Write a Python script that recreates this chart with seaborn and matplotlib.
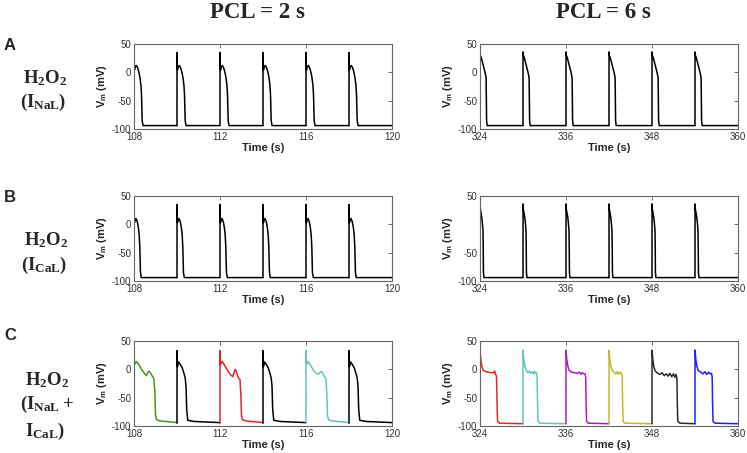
import numpy as np
import pandas as pd
import matplotlib
matplotlib.use('Agg')
import matplotlib.pyplot as plt
import seaborn as sns

# ---- data ----
# beat onsets (s)
onsets_2s = [108, 110, 112, 114, 116, 118]
onsets_6s = [324, 330, 336, 342, 348, 354]

# A: H2O2 (I_NaL), one beat, time since stimulus (s) and Vm (mV)
a2_t = [0, 0.002, 0.02, 0.06, 0.11, 0.17, 0.23, 0.28, 0.32, 0.35, 0.38, 0.42, 2.0]
a2_v = [-94, 35, 4, 10, 12, 8, 0, -10, -22, -40, -85, -94, -94]
a6_t = [0, 0.005, 0.04, 0.15, 0.4, 0.7, 0.85, 0.88, 0.92, 1.0, 6.0]
a6_v = [-94, 36, 30, 27, 15, 0, -9, -40, -85, -94, -94]

# B: H2O2 (I_CaL)
b2_t = [0, 0.002, 0.02, 0.06, 0.10, 0.15, 0.20, 0.24, 0.27, 0.30, 0.34, 2.0]
b2_v = [-94, 35, 3, 9, 10, 5, -5, -18, -40, -85, -94, -94]
b6_t = [0, 0.005, 0.04, 0.12, 0.25, 0.35, 0.42, 0.45, 0.48, 0.55, 6.0]
b6_v = [-94, 36, 27, 22, 12, 0, -12, -40, -85, -94, -94]

# C: H2O2 (I_NaL + I_CaL), PCL 2 s -- EAD beats alternate with normal beats
c2_green_t = [0, 0.002, 0.02, 0.1, 0.2, 0.35, 0.5, 0.58, 0.65, 0.70, 0.76, 0.85, 0.92, 0.97, 1.0, 1.05, 1.2, 2.0]
c2_green_v = [-95, 33, 8, 14, 10, 0, -8, -11, -5, -3, -6, -12, -16, -40, -80, -89, -91, -94]
c2_black_t = [0, 0.002, 0.02, 0.07, 0.15, 0.25, 0.33, 0.38, 0.42, 0.45, 0.5, 0.8, 2.0]
c2_black_v = [-95, 33, 5, 13, 9, 2, -8, -15, -30, -70, -90, -92, -94]
c2_red_t = [0, 0.002, 0.02, 0.1, 0.2, 0.35, 0.5, 0.6, 0.66, 0.70, 0.75, 0.85, 0.93, 0.97, 1.0, 1.05, 1.2, 2.0]
c2_red_v = [-95, 33, 8, 14, 8, -2, -10, -13, -5, 0, -3, -15, -18, -45, -82, -89, -91, -94]
c2_teal_t = [0, 0.002, 0.02, 0.1, 0.2, 0.35, 0.5, 0.6, 0.68, 0.75, 0.85, 0.93, 0.97, 1.0, 1.05, 1.2, 2.0]
c2_teal_v = [-95, 33, 8, 14, 8, -2, -8, -8, -4, -5, -12, -17, -45, -82, -89, -91, -94]

# C: PCL 6 s -- every beat has a noisy plateau of its own length
c6_red_t = [0, 0.005, 0.1, 0.25, 0.45, 0.8, 1.2, 1.6, 1.9, 2.05, 2.15, 2.3, 2.38, 2.45, 2.7, 6.0]
c6_red_v = [-96, 34, 19, 6, -2, -4, -5, -6, -6, -3, -8, -12, -60, -92, -95, -96]
c6_teal_t = [0, 0.005, 0.1, 0.25, 0.45, 0.7, 0.9, 1.1, 1.3, 1.45, 1.6, 1.75, 1.9, 1.97, 2.03, 2.1, 2.4, 6.0]
c6_teal_v = [-96, 34, 19, 6, -2, -6, -3, -7, -4, -8, -3, -7, -6, -15, -60, -92, -95, -96]
c6_purple_t = [0, 0.005, 0.1, 0.25, 0.45, 0.8, 1.2, 1.6, 1.9, 2.1, 2.3, 2.5, 2.65, 2.75, 2.8, 2.88, 3.1, 6.0]
c6_purple_v = [-96, 34, 19, 6, -2, -5, -6, -7, -5, -9, -6, -8, -8, -14, -60, -92, -95, -96]
c6_yellow_t = [0, 0.005, 0.1, 0.25, 0.45, 0.7, 0.95, 1.15, 1.35, 1.55, 1.75, 1.84, 1.9, 1.97, 2.2, 6.0]
c6_yellow_v = [-96, 34, 19, 6, -2, -5, -8, -4, -9, -5, -7, -14, -60, -92, -95, -96]
c6_black_t = [0, 0.005, 0.1, 0.25, 0.45, 0.8, 1.1, 1.4, 1.7, 2.0, 2.25, 2.5, 2.75, 3.0, 3.2, 3.35, 3.48, 3.53, 3.6, 3.9, 6.0]
c6_black_v = [-96, 34, 19, 5, -3, -7, -9, -6, -11, -8, -12, -7, -13, -8, -14, -9, -16, -60, -92, -95, -96]
c6_blue_t = [0, 0.005, 0.1, 0.25, 0.45, 0.8, 1.1, 1.4, 1.65, 1.9, 2.1, 2.3, 2.4, 2.45, 2.52, 2.8, 6.0]
c6_blue_v = [-96, 34, 19, 6, -2, -5, -8, -4, -9, -5, -8, -7, -14, -60, -92, -95, -96]

colors_c2 = ['#4f8f24', 'black', '#e3262b', 'black', '#66c3bf', 'black']
colors_c6 = ['#e3262b', '#66c3bf', '#a51fc4', '#bdbd2c', '#2b2b2b', '#1f1fff']

xticks_2s = [108, 112, 116, 120]
xticks_6s = [324, 336, 348, 360]
yticks = [-100, -50, 0, 50]


def beats_frame(onsets, shapes):
    rows = []
    for i, (t0, (dt, v)) in enumerate(zip(onsets, shapes)):
        for d, vv in zip(dt, v):
            rows.append((i, t0 + d, vv))
    return pd.DataFrame(rows, columns=['beat', 't', 'v'])


sns.set_style('white')
plt.rcParams['font.family'] = ['Liberation Sans', 'DejaVu Sans']
plt.rcParams['mathtext.fontset'] = 'custom'
plt.rcParams['mathtext.bf'] = 'Liberation Serif:bold'
plt.rcParams['mathtext.rm'] = 'Liberation Serif'
plt.rcParams['mathtext.sf'] = 'Liberation Sans:bold'

W, H = 747, 453
fig = plt.figure(figsize=(W / 100, H / 100), dpi=100)


def px_axes(x0, y0, x1, y1):
    return fig.add_axes([x0 / W, 1 - y1 / H, (x1 - x0) / W, (y1 - y0) / H])


def style_axes(ax, xlim, xticks, ylabels):
    ax.set_xlim(xlim)
    ax.set_ylim(-100, 50)
    ax.set_xticks(xticks)
    ax.set_yticks(yticks)
    ax.set_yticklabels(ylabels)
    ax.tick_params(direction='in', length=3, width=0.6, top=True, right=True,
                   labelsize=7, pad=2, colors='#555555', labelcolor='#333333')
    for s in ax.spines.values():
        s.set_color('#666666')
        s.set_linewidth(0.8)
    ax.set_xlabel('Time (s)', fontsize=8, fontweight='bold', labelpad=1)
    ax.set_ylabel(r'$\mathsf{V_m}$ (mV)', fontsize=8, fontweight='bold', labelpad=2)


rows_y = [(44, 129), (196, 281), (341, 426)]
panels = [
    (beats_frame(onsets_2s, [(a2_t, a2_v)] * 6), ['black'] * 6,
     beats_frame(onsets_6s, [(a6_t, a6_v)] * 6), ['black'] * 6, ['-100', '-50', '0', '50']),
    (beats_frame(onsets_2s, [(b2_t, b2_v)] * 6), ['black'] * 6,
     beats_frame(onsets_6s, [(b6_t, b6_v)] * 6), ['black'] * 6, ['-100', '-50', '', '50']),
    (beats_frame(onsets_2s, [(c2_green_t, c2_green_v), (c2_black_t, c2_black_v),
                             (c2_red_t, c2_red_v), (c2_black_t, c2_black_v),
                             (c2_teal_t, c2_teal_v), (c2_black_t, c2_black_v)]), colors_c2,
     beats_frame(onsets_6s, [(c6_red_t, c6_red_v), (c6_teal_t, c6_teal_v),
                             (c6_purple_t, c6_purple_v), (c6_yellow_t, c6_yellow_v),
                             (c6_black_t, c6_black_v), (c6_blue_t, c6_blue_v)]), colors_c6, None),
]

for (y0, y1), (df2, col2, df6, col6, right_labels) in zip(rows_y, panels):
    ax = px_axes(134, y0, 392, y1)
    sns.lineplot(data=df2, x='t', y='v', hue='beat', palette=col2, estimator=None,
                 sort=False, legend=False, lw=1.1, ax=ax)
    style_axes(ax, (108, 120), xticks_2s, ['-100', '-50', '0', '50'])
    ax2 = px_axes(480, y0, 738, y1)
    sns.lineplot(data=df6, x='t', y='v', hue='beat', palette=col6, estimator=None,
                 sort=False, legend=False, lw=1.1, ax=ax2)
    style_axes(ax2, (324, 360), xticks_6s, right_labels or ['-100', '-50', '0', '50'])


def ftext(x, y, s, **kw):
    fig.text(x / W, 1 - y / H, s, ha='center', va='center', **kw)


serif = ['Liberation Serif', 'DejaVu Serif']
ftext(257, 13, 'PCL = 2 s', fontsize=16.5, fontweight='bold', family=serif)
ftext(603, 13, 'PCL = 6 s', fontsize=16.5, fontweight='bold', family=serif)

for letter, y in [('A', 45), ('B', 198), ('C', 336)]:
    ftext(10, y, letter, fontsize=12, fontweight='bold')

hs = 13.5
ftext(45, 78, r'$\mathbf{H_2O_2}$', fontsize=hs)
ftext(43, 102, r'$\mathbf{(I_{NaL})}$', fontsize=hs)
ftext(46, 240, r'$\mathbf{H_2O_2}$', fontsize=hs)
ftext(44, 265, r'$\mathbf{(I_{CaL})}$', fontsize=hs)
ftext(47, 380, r'$\mathbf{H_2O_2}$', fontsize=hs)
ftext(47, 404, r'$\mathbf{(I_{NaL}+}$', fontsize=hs)
ftext(45, 431, r'$\mathbf{I_{CaL})}$', fontsize=hs)

fig.savefig('out.png', dpi=100)
